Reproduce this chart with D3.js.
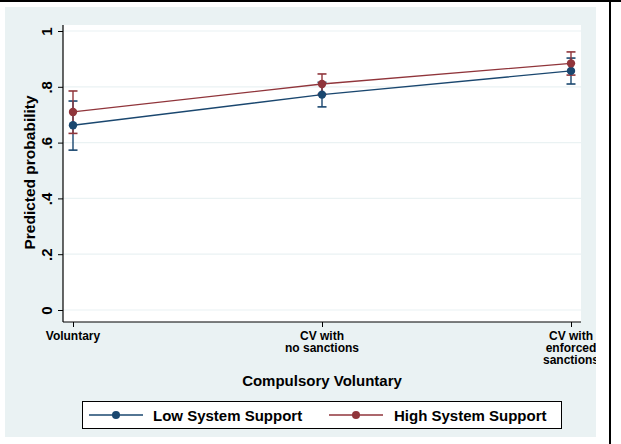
<!DOCTYPE html>
<html>
<head>
<meta charset="utf-8">
<script src="https://cdn.jsdelivr.net/npm/d3@7"></script>
<style>
  html, body { margin: 0; padding: 0; background: #ffffff; }
  svg { display: block; }
  text { font-family: "Liberation Sans", Arial, Helvetica, sans-serif; font-weight: bold; fill: #000; }
</style>
</head>
<body>
<svg id="chart" width="621" height="444"></svg>
<script>
// Predicted probabilities by compulsory-voluntary condition, with 95% CIs
const categories = ["Voluntary", "CV with\nno sanctions", "CV with\nenforced\nsanctions"];
const seriesNames = ["Low System Support", "High System Support"];
const lowEstimate = [0.662, 0.772, 0.857];
const lowLower    = [0.573, 0.728, 0.810];
const lowUpper    = [0.749, 0.816, 0.903];
const highEstimate = [0.710, 0.810, 0.884];
const highLower    = [0.633, 0.773, 0.842];
const highUpper    = [0.785, 0.846, 0.925];
const yTicks = [0, 0.2, 0.4, 0.6, 0.8, 1];
const yTickLabels = ["0", ".2", ".4", ".6", ".8", "1"];
const xTitle = "Compulsory Voluntary";
const yTitle = "Predicted probability";

const colors = ["#1a476f", "#90353b"];
const series = [
  { name: seriesNames[0], est: lowEstimate, lo: lowLower, hi: lowUpper, color: colors[0] },
  { name: seriesNames[1], est: highEstimate, lo: highLower, hi: highUpper, color: colors[1] }
];

const svg = d3.select("#chart");
const W = 621, H = 444;

// graph region
svg.append("rect").attr("x", 0).attr("y", 0).attr("width", W).attr("height", H).attr("fill", "#ffffff");
svg.append("rect").attr("x", 5).attr("y", 7).attr("width", 591).attr("height", 430).attr("fill", "#eaf2f3");
svg.append("line").attr("x1", 0).attr("x2", W).attr("y1", 1).attr("y2", 1).attr("stroke", "#000").attr("stroke-width", 2);
svg.append("line").attr("x1", 610).attr("x2", 610).attr("y1", 0).attr("y2", H).attr("stroke", "#000").attr("stroke-width", 2);

svg.append("clipPath").attr("id", "graphClip")
  .append("rect").attr("x", 5).attr("y", 7).attr("width", 591).attr("height", 430);

const g = svg.append("g").attr("clip-path", "url(#graphClip)");

// plot region
const plot = { left: 63, right: 581, top: 25, bottom: 322 };
g.append("rect").attr("x", plot.left).attr("y", plot.top)
  .attr("width", plot.right - plot.left).attr("height", plot.bottom - plot.top).attr("fill", "#ffffff");

const x = d3.scalePoint().domain(d3.range(categories.length)).range([73, 571]);
const y = d3.scaleLinear().domain([0, 1]).range([310, 31]);

// horizontal grid
g.append("g").selectAll("line").data(yTicks).join("line")
  .attr("x1", plot.left).attr("x2", plot.right)
  .attr("y1", d => y(d)).attr("y2", d => y(d))
  .attr("stroke", "#eaf2f3").attr("stroke-width", 1.2);

// y axis
const yAxis = d3.axisLeft(y).tickValues(yTicks).tickSize(5).tickFormat((d, i) => yTickLabels[i]);
const yg = g.append("g").attr("transform", `translate(${plot.left},0)`).call(yAxis);
yg.select(".domain").remove();
yg.selectAll(".tick line").attr("stroke", "#000").attr("stroke-width", 1);
yg.selectAll(".tick text")
  .attr("x", null).attr("dy", null)
  .attr("text-anchor", "middle")
  .attr("transform", "translate(-11,0) rotate(-90)")
  .attr("dy", "0")
  .style("font-size", "15px")
  .style("font-family", "'Liberation Sans', Arial, sans-serif")
  .style("font-weight", "bold");
g.append("line").attr("x1", plot.left).attr("x2", plot.left).attr("y1", plot.top).attr("y2", plot.bottom)
  .attr("stroke", "#000").attr("stroke-width", 1.2);

// x axis
const xAxis = d3.axisBottom(x).tickSize(5).tickFormat(() => "");
const xg = g.append("g").attr("transform", `translate(0,${plot.bottom})`).call(xAxis);
xg.select(".domain").remove();
xg.selectAll(".tick line").attr("stroke", "#000");
g.append("line").attr("x1", plot.left).attr("x2", plot.right).attr("y1", plot.bottom).attr("y2", plot.bottom)
  .attr("stroke", "#000").attr("stroke-width", 1.2);

categories.forEach((c, i) => {
  const t = g.append("text").attr("x", x(i)).attr("y", 339.5)
    .attr("text-anchor", "middle").style("font-size", "12px");
  c.split("\n").forEach((line, k) => {
    t.append("tspan").attr("x", x(i)).attr("dy", k === 0 ? 0 : 12).text(line);
  });
});

// axis titles
g.append("text").attr("x", (plot.left + plot.right) / 2).attr("y", 385.5)
  .attr("text-anchor", "middle").style("font-size", "15px").text(xTitle);
g.append("text").attr("transform", `translate(35,${(plot.top + plot.bottom) / 2 - 1}) rotate(-90)`)
  .attr("text-anchor", "middle").style("font-size", "15.5px").text(yTitle);

// series: lines, CIs, markers
const line = d3.line().x((d, i) => x(i)).y(d => y(d));
series.forEach(s => {
  g.append("path").datum(s.est).attr("d", line)
    .attr("fill", "none").attr("stroke", s.color).attr("stroke-width", 1.4);
});
series.forEach(s => {
  const eg = g.append("g");
  s.est.forEach((v, i) => {
    const cx = x(i);
    eg.append("line").attr("x1", cx).attr("x2", cx).attr("y1", y(s.lo[i])).attr("y2", y(s.hi[i]))
      .attr("stroke", s.color).attr("stroke-width", 1.4);
    [s.lo[i], s.hi[i]].forEach(b => {
      eg.append("line").attr("x1", cx - 4.5).attr("x2", cx + 4.5).attr("y1", y(b)).attr("y2", y(b))
        .attr("stroke", s.color).attr("stroke-width", 1.6);
    });
  });
});
series.forEach(s => {
  g.append("g").selectAll("circle").data(s.est).join("circle")
    .attr("cx", (d, i) => x(i)).attr("cy", d => y(d)).attr("r", 4.2)
    .attr("fill", s.color);
});

// legend
const lg = g.append("g");
lg.append("rect").attr("x", 82.5).attr("y", 401.5).attr("width", 479).attr("height", 27)
  .attr("fill", "#ffffff").attr("stroke", "#000").attr("stroke-width", 1);
const legendPos = [{ x0: 89, x1: 143, tx: 153 }, { x0: 329, x1: 383, tx: 394 }];
series.forEach((s, i) => {
  const p = legendPos[i];
  lg.append("line").attr("x1", p.x0).attr("x2", p.x1).attr("y1", 415).attr("y2", 415)
    .attr("stroke", s.color).attr("stroke-width", 1.4);
  lg.append("circle").attr("cx", (p.x0 + p.x1) / 2).attr("cy", 415).attr("r", 4).attr("fill", s.color);
  lg.append("text").attr("x", p.tx).attr("y", 420.5).style("font-size", "15px").text(s.name);
});
</script>
</body>
</html>
